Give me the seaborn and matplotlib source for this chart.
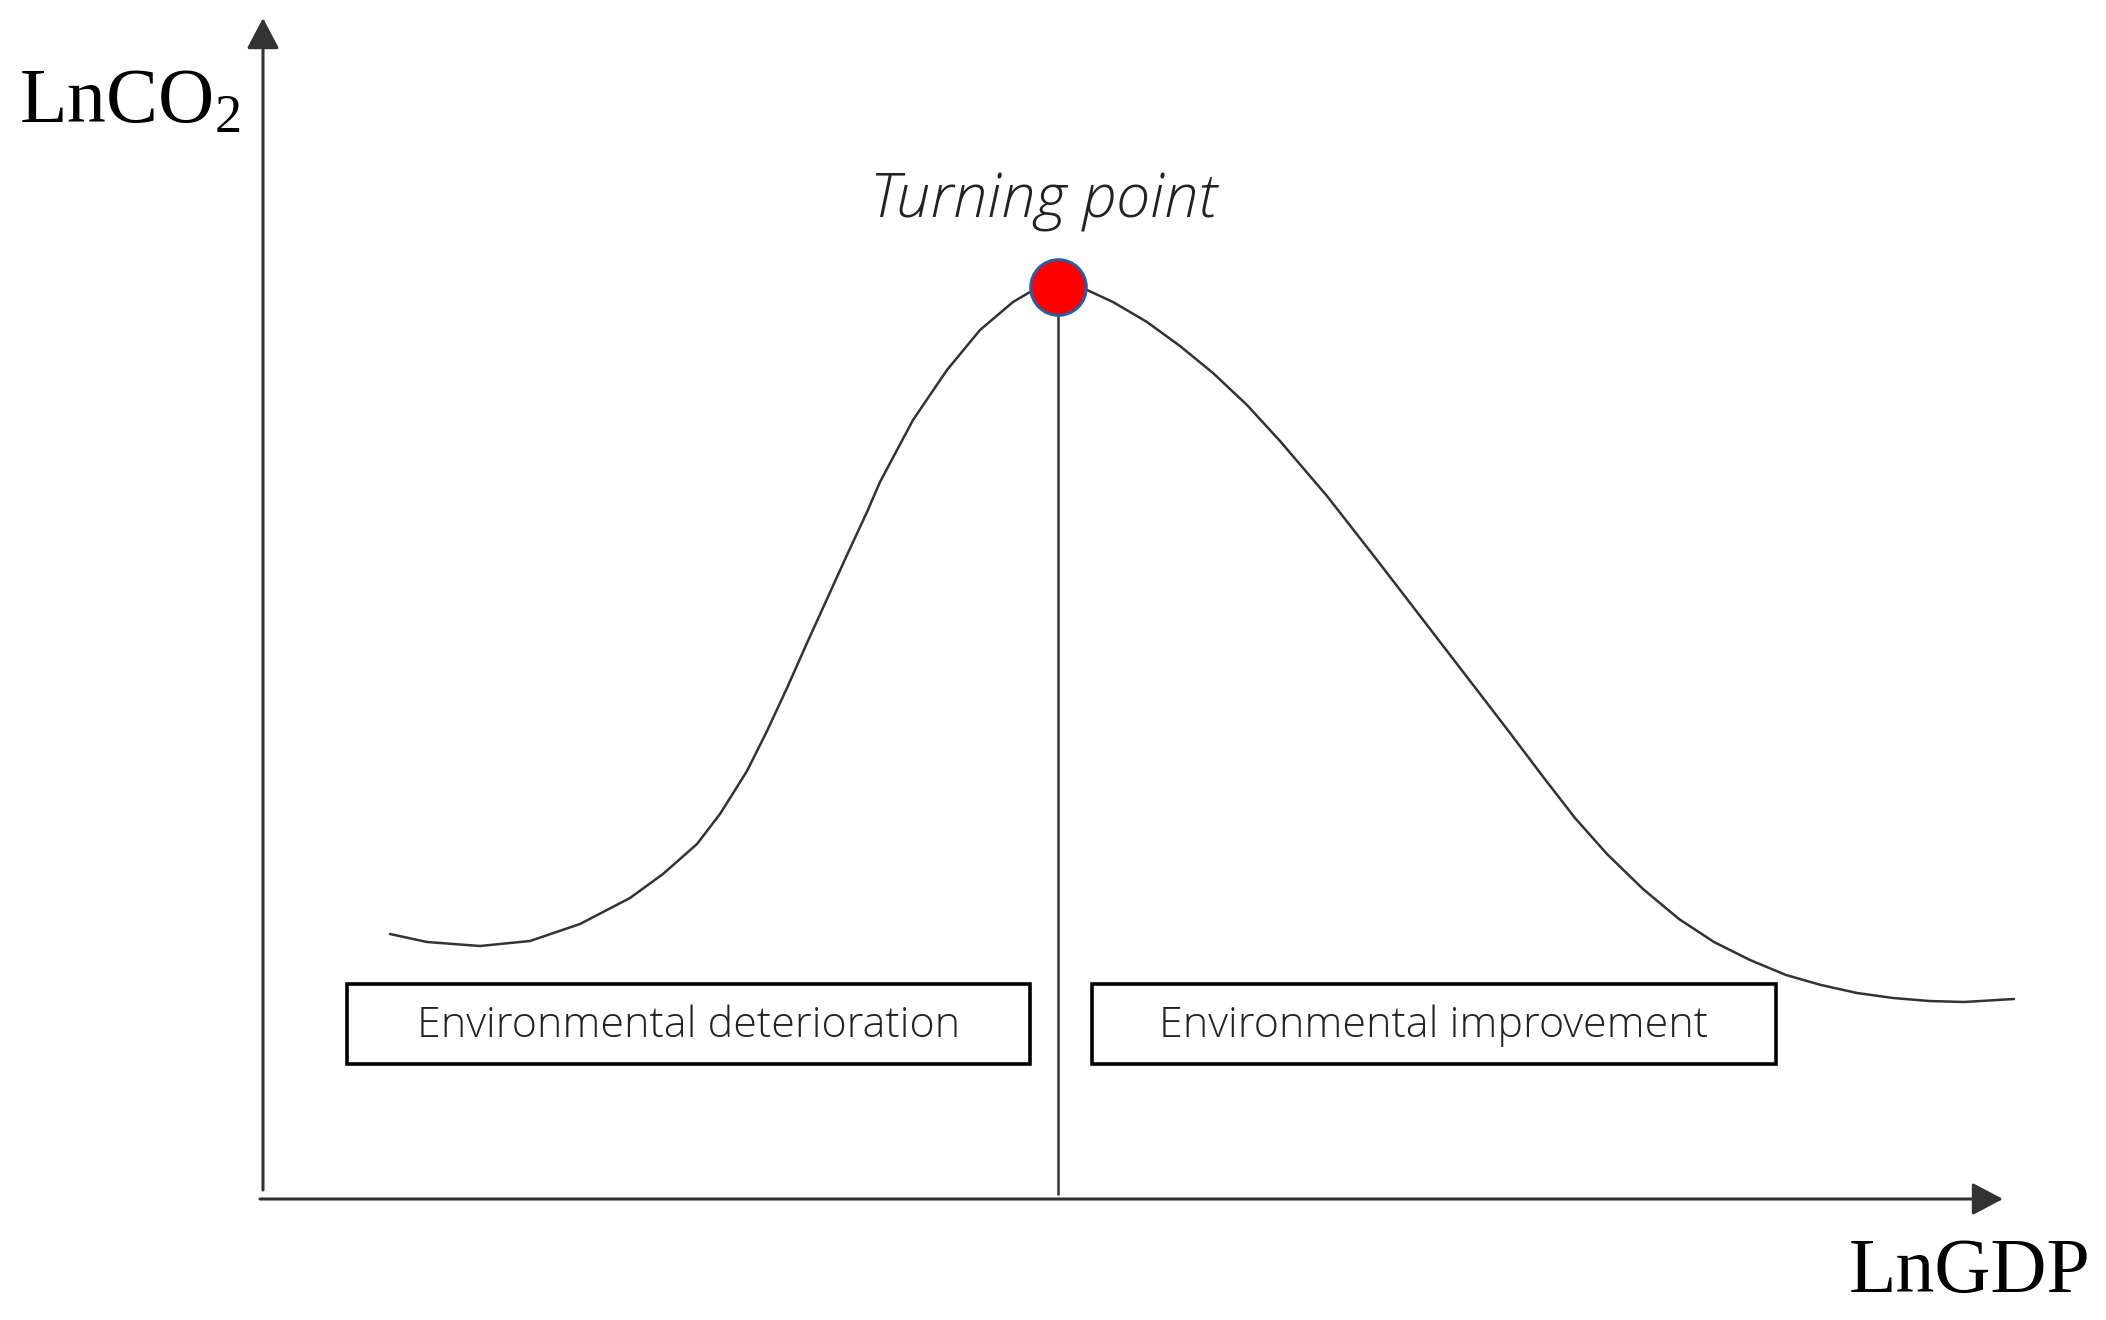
import matplotlib
matplotlib.use("Agg")
import matplotlib.pyplot as plt
from matplotlib.patches import Rectangle
import seaborn as sns
import pandas as pd

# EKC curve (x = LnGDP, y = LnCO2, arbitrary units)
ln_gdp = [1.27, 1.64, 2.17, 2.67, 3.17, 3.67, 4.00, 4.34, 4.57, 4.84, 5.04, 5.24,
          5.44, 5.64, 5.84, 6.04, 6.17, 6.50, 6.84, 7.17, 7.50, 7.67, 7.95,
          8.24, 8.50, 8.84, 9.17, 9.50, 9.84, 10.17, 10.64, 11.14, 11.64, 12.14,
          12.47, 12.81, 13.12, 13.44, 13.80, 14.16, 14.51, 14.87, 15.23, 15.58,
          15.94, 16.30, 16.66, 17.01, 17.51]
ln_co2 = [2.66, 2.58, 2.54, 2.59, 2.76, 3.02, 3.26, 3.56, 3.86, 4.29, 4.69, 5.12,
          5.57, 6.01, 6.45, 6.88, 7.18, 7.80, 8.30, 8.70, 8.98, 9.08, 9.13,
          9.10, 8.98, 8.78, 8.54, 8.27, 7.95, 7.59, 7.04, 6.40, 5.75, 5.10,
          4.67, 4.22, 3.82, 3.46, 3.11, 2.81, 2.58, 2.40, 2.25, 2.15,
          2.07, 2.02, 1.99, 1.98, 2.01]
turning_x = [7.95]
turning_y = [9.13]
region_labels = ["Environmental deterioration", "Environmental improvement"]
x_label = "LnGDP"
y_label = "LnCO$_2$"
tp_label = "Turning point"

df = pd.DataFrame({"LnGDP": ln_gdp, "LnCO2": ln_co2})
tp = pd.DataFrame({"LnGDP": turning_x, "LnCO2": turning_y})

sns.set_style("white")
plt.rcParams["mathtext.default"] = "regular"

fig = plt.figure(figsize=(21.06, 13.2), dpi=100)
ax = fig.add_axes([0, 0, 1, 1])
ax.set_xlim(-2.63, 18.43)
ax.set_ylim(-1.2, 12.0)
ax.axis("off")

# axes with arrows
arrow = dict(arrowstyle="-|>,head_length=0.95,head_width=0.5", color="#333333",
             lw=2.2, shrinkA=0, shrinkB=0, mutation_scale=20)
ax.annotate("", xy=(0, 11.82), xytext=(0, 0.10), arrowprops=arrow)
ax.annotate("", xy=(17.40, 0.01), xytext=(-0.03, 0.01), arrowprops=arrow)

# curve
sns.lineplot(data=df, x="LnGDP", y="LnCO2", ax=ax, color="#333333", lw=1.8,
             sort=False, legend=False, solid_joinstyle="round")

# vertical line from turning point
ax.vlines(turning_x[0], 0.05, turning_y[0], color="#333333", lw=1.8)
sns.scatterplot(data=tp, x="LnGDP", y="LnCO2", ax=ax, s=1600, color="#ff0000",
                edgecolor="#2e5c9a", linewidth=2.2, zorder=5, legend=False)
ax.text(7.80, 9.82, tp_label, ha="center", va="baseline", fontsize=44,
        style="italic", fontweight="light", family="Open Sans", color="#222222")

# region boxes
boxes = [(0.84, 6.83), (8.29, 6.84)]
for (left, w), lab in zip(boxes, region_labels):
    ax.add_patch(Rectangle((left, 1.36), w, 0.80, fill=False, ec="black", lw=2.6))
    ax.text(left + w / 2, 1.74, lab, ha="center", va="center", fontsize=31,
            fontweight="light", family="Open Sans", color="#222222")

# axis titles
ax.text(-1.33, 10.78, y_label, ha="center", va="baseline", fontsize=56,
        family="Liberation Serif", color="black")
ax.text(17.07, -0.92, x_label, ha="center", va="baseline", fontsize=56,
        family="Liberation Serif", color="black")
ax.set_xlabel("")
ax.set_ylabel("")

fig.savefig("out.png", dpi=100, facecolor="white")
